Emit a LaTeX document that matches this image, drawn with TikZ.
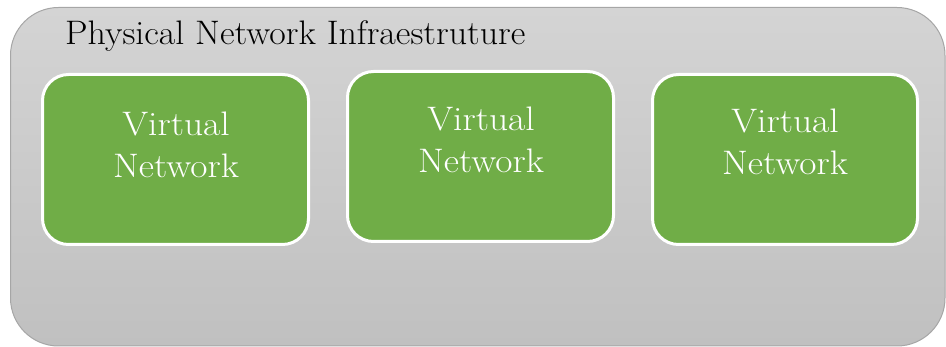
\documentclass[tikz,border=0pt]{standalone}
\definecolor{vngreen}{RGB}{112,173,71}
\definecolor{frameedge}{RGB}{166,166,166}
\definecolor{graytop}{RGB}{212,212,212}
\definecolor{graybot}{RGB}{192,192,192}
% slightly widened lettering
\newcommand{\widetext}[2]{\scalebox{#1}[1]{#2}}
\tikzset{
  infra/.style={draw=frameedge, line width=1pt, rounded corners=48pt,
    top color=graytop, bottom color=graybot},
  vnbox/.style={draw=white, line width=3pt, fill=vngreen, rounded corners=26pt},
  vnlabel/.style={text=white, align=center, inner sep=0pt,
    font=\fontsize{34}{41.5}\selectfont},
  titlelabel/.style={text=black, anchor=base west, inner sep=0pt,
    font=\fontsize{34}{38}\selectfont}
}
\begin{document}
\begin{tikzpicture}[x=1pt,y=-1pt]
\useasboundingbox (0,0) rectangle (946,347);
% physical infrastructure frame
\path[infra] (10.5,7.5) rectangle (945,346);
\node[titlelabel] (title) at (65,45) {\widetext{1.055}{Physical Network Infraestruture}};
% virtual networks
\path[vnbox] (42.5,74.5) rectangle (308.5,244.5);
\path[vnbox] (347.5,71.5) rectangle (613.5,241.5);
\path[vnbox] (652.5,74.5) rectangle (917.5,244.5);
\node[vnlabel] (vn1) at (176,145) {\widetext{1.1}{Virtual}\\\widetext{1.1}{Network}};
\node[vnlabel] (vn2) at (481,140) {\widetext{1.1}{Virtual}\\\widetext{1.1}{Network}};
\node[vnlabel] (vn3) at (785,142) {\widetext{1.1}{Virtual}\\\widetext{1.1}{Network}};
\end{tikzpicture}
\end{document}
